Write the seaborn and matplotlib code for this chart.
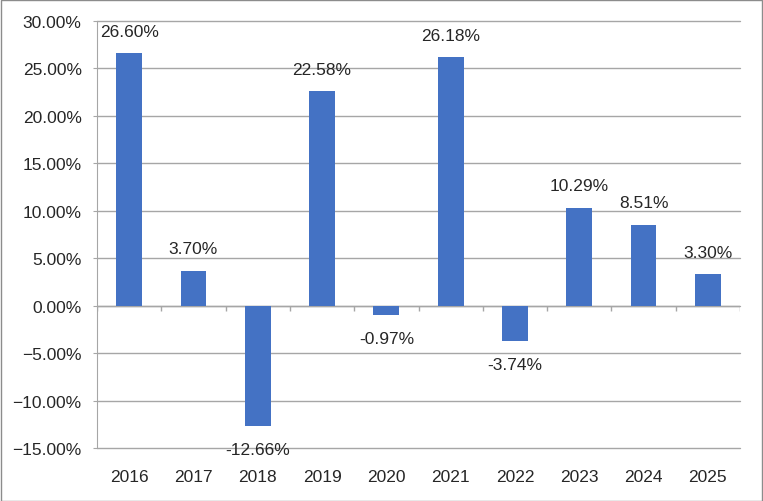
import numpy as np
import pandas as pd
import matplotlib
matplotlib.use('Agg')
import matplotlib.pyplot as plt
import seaborn as sns
from matplotlib.ticker import PercentFormatter
from matplotlib.patches import Rectangle

sns.set_style('white')
plt.rcParams['font.family'] = ['Liberation Sans', 'DejaVu Sans']

# 年份与收益率（%）
years = ['2016', '2017', '2018', '2019', '2020', '2021', '2022', '2023', '2024', '2025']
returns = [26.60, 3.70, -12.66, 22.58, -0.97, 26.18, -3.74, 10.29, 8.51, 3.30]
yticks = [-15, -10, -5, 0, 5, 10, 15, 20, 25, 30]

df = pd.DataFrame({'年份': years, '收益率': returns})

fig = plt.figure(figsize=(7.63, 5.02), dpi=100)
ax = fig.add_axes([97/763, 53/502, (740-97)/763, (449-22)/502])

sns.barplot(data=df, x='年份', y='收益率', color='#4472C4', saturation=1,
            width=0.4, linewidth=0, ax=ax, zorder=3)

ax.set_ylim(-15, 30)
ax.set_xlim(-0.5, len(years) - 0.5)
ax.set_yticks(yticks)
ax.yaxis.set_major_formatter(PercentFormatter(decimals=2))
ax.grid(axis='y', color='#A6A6A6', linewidth=1, zorder=0)
for gl in ax.get_ygridlines():
    gl.set_clip_on(False)
ax.set_xlabel('')
ax.set_ylabel('')

for s in ['top', 'right', 'bottom']:
    ax.spines[s].set_visible(False)
ax.spines['left'].set_color('#A6A6A6')
ax.tick_params(axis='y', length=3, color='#A6A6A6', pad=8, labelsize=12.5, left=True)
ax.tick_params(axis='x', length=0, pad=15, labelsize=12.5)

# 零轴与分隔刻度
ax.axhline(0, color='#A6A6A6', linewidth=1, zorder=2)
ax.vlines(np.arange(len(years) + 1) - 0.5, 0, -0.55, color='#A6A6A6', linewidth=1, zorder=2)

# 数据标签
for i, v in enumerate(returns):
    off = 16 if v >= 0 else -17
    ax.annotate(f'{v:.2f}%', (i, v), xytext=(0, off), textcoords='offset points',
                ha='center', va='center', fontsize=12.5, zorder=4)

fig.patches.append(Rectangle((0.5/763, 0.5/502), 1 - 1.5/763, 1 - 1.5/502,
                             transform=fig.transFigure, fill=False,
                             edgecolor='#8C8C8C', linewidth=1))

fig.savefig('out.png', dpi=100)
